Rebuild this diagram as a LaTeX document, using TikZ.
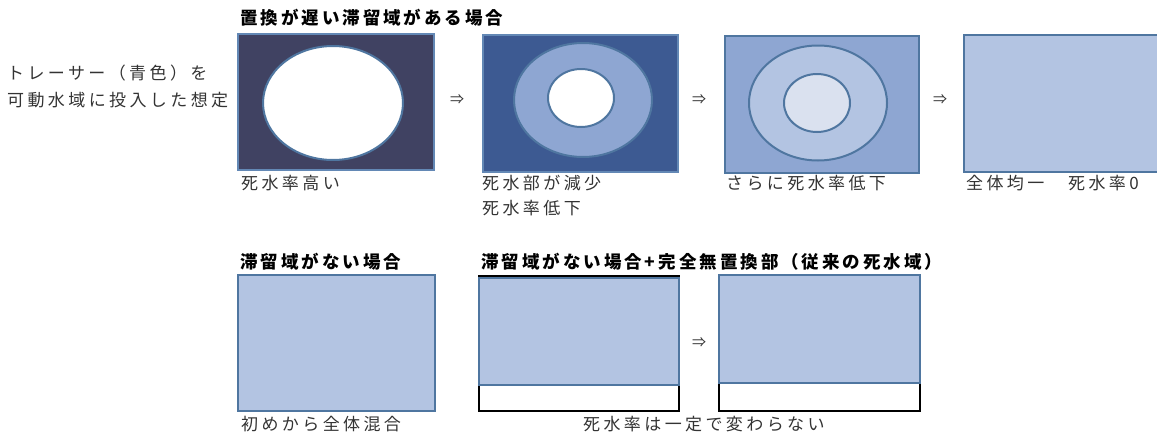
\documentclass[tikz,border=0pt]{standalone}
\usepackage{fontspec}
\usetikzlibrary{shapes.geometric}
\newfontfamily\jp[LetterSpace=20]{Noto Sans CJK JP}
\newfontfamily\jpt[LetterSpace=17]{Noto Sans CJK JP}
\definecolor{fillA}{HTML}{404262}
\definecolor{fillB}{HTML}{3D5A92}
\definecolor{fillC}{HTML}{8EA6D2}
\definecolor{fillD}{HTML}{B3C4E2}
\definecolor{fillE}{HTML}{DAE1EF}
\definecolor{edge}{HTML}{4F76A0}
\definecolor{edgeL}{HTML}{6388B5}
\definecolor{txt}{HTML}{333333}
\begin{document}
\begin{tikzpicture}[x=1pt,y=-1pt,
  box/.style={draw=edge, line width=2pt, inner sep=0pt, outer sep=0pt, rectangle},
  oval/.style={draw=edge, line width=2pt, ellipse, inner sep=0pt, outer sep=0pt},
  outline/.style={draw=black, line width=2pt, inner sep=0pt, outer sep=0pt, rectangle},
  lbl/.style={anchor=west, inner sep=0pt, font=\jp\fontsize{17}{20}\selectfont, text=txt},
  ttl/.style={anchor=west, inner sep=0pt, font=\jpt\bfseries\fontsize{17.5}{20}\selectfont, text=black},
  arr/.style={inner sep=0pt, font=\jp\fontsize{14}{16}\selectfont, text=txt}]
\useasboundingbox (0,0) rectangle (1157,434);
% top row
\node[ttl] (t1) at (240,18) {置換が遅い滞留域がある場合};
\node[lbl] (left1) at (7,73) {トレーサー（青色）を};
\node[lbl] (left2) at (7,100) {可動水域に投入した想定};

\node[box, draw=edgeL, fill=fillA, minimum width=196pt, minimum height=136pt] (p1) at (336,102) {};
\node[oval, fill=white, minimum width=140pt, minimum height=114pt] (e1) at (333,103) {};
\node[arr] (a1) at (457,100) {⇒};

\node[box, fill=fillB, draw=edgeL, minimum width=195pt, minimum height=137pt] (p2) at (580.5,103.5) {};
\node[oval, fill=fillC, minimum width=138pt, minimum height=114pt] (e2o) at (583,100) {};
\node[oval, fill=white, minimum width=66pt, minimum height=58pt] (e2i) at (581,98) {};
\node[arr] (a2) at (699,100) {⇒};

\node[box, fill=fillC, minimum width=194pt, minimum height=137pt] (p3) at (822,104.5) {};
\node[oval, fill=fillD, minimum width=138pt, minimum height=115pt] (e3o) at (818,103) {};
\node[oval, fill=fillE, minimum width=66pt, minimum height=58pt] (e3i) at (817,103) {};
\node[arr] (a3) at (940,100) {⇒};

\node[box, fill=fillD, minimum width=198pt, minimum height=137pt] (p4) at (1063,103.5) {};

\node[lbl] (l1) at (241,183) {死水率高い};
\node[lbl] (l2a) at (482,183) {死水部が減少};
\node[lbl] (l2b) at (482,208) {死水率低下};
\node[lbl] (l3) at (726,183) {さらに死水率低下};
\node[lbl] (l4) at (966,183) {全体均一　死水率0};

% bottom row
\node[ttl] (t2) at (240,262) {滞留域がない場合};
\node[ttl] (t3) at (481,262) {滞留域がない場合+完全無置換部（従来の死水域）};

\node[box, fill=fillD, minimum width=197pt, minimum height=136pt] (q1) at (336.5,343) {};
\node[lbl] (l5) at (241,424) {初めから全体混合};

\node[outline, minimum width=200pt, minimum height=135pt] (q2o) at (579,343.5) {};
\node[box, fill=fillD, minimum width=200pt, minimum height=107pt] (q2) at (579,331.5) {};
\node[arr] (a4) at (699,343) {⇒};
\node[outline, minimum width=201pt, minimum height=136pt] (q3o) at (819.5,343) {};
\node[box, fill=fillD, minimum width=201pt, minimum height=108pt] (q3) at (819.5,329) {};
\node[lbl] (l6) at (583,424) {死水率は一定で変わらない};
\end{tikzpicture}
\end{document}
